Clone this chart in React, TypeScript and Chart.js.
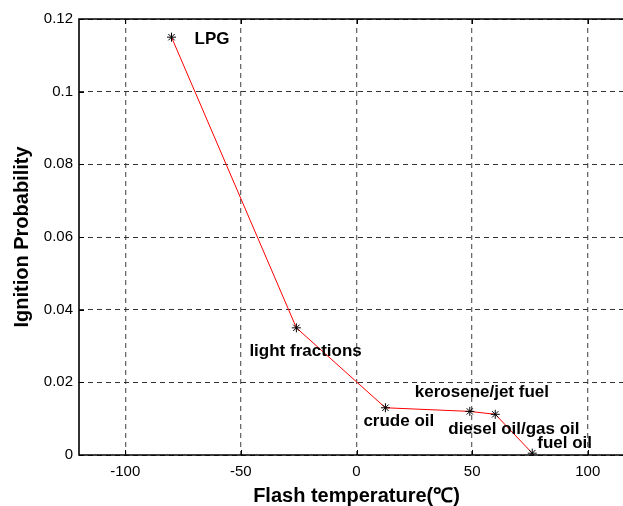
import React, { useEffect, useRef } from "react";
import { Chart, registerables } from "chart.js";

Chart.register(...registerables);

const categories = ["LPG", "light fractions", "crude oil", "kerosene/jet fuel", "diesel oil/gas oil", "fuel oil"];
const flashTemps = [-80, -26, 12.5, 49, 60, 76];
const ignitionProb = [0.115, 0.035, 0.013, 0.012, 0.0112, 0.0005];
const xTickValues = [-100, -50, 0, 50, 100];
const xTickLabels = ["-100", "-50", "0", "50", "100"];
const yTickValues = [0, 0.02, 0.04, 0.06, 0.08, 0.1, 0.12];
const yTickLabels = ["0", "0.02", "0.04", "0.06", "0.08", "0.1", "0.12"];

// pixel offsets of the annotation text from each point (left edge, vertical middle)
const labelOffsets: [number, number][] = [
  [23, 2],
  [-47, 23],
  [-22, 14],
  [-55, -19],
  [-47, 15],
  [5, -10],
];

const FONT = "'Liberation Sans', Arial, Helvetica, sans-serif";

const boxPlugin = {
  id: "boxAndTicks",
  beforeDatasetsDraw(chart: any) {
    const { ctx, chartArea, scales } = chart;
    const { left, right, top, bottom } = chartArea;
    ctx.save();
    ctx.strokeStyle = "#000";
    ctx.lineWidth = 1;
    const tl = 5;
    ctx.beginPath();
    scales.x.ticks.forEach((t: any) => {
      const px = Math.round(scales.x.getPixelForValue(t.value)) + 0.5;
      ctx.moveTo(px, bottom);
      ctx.lineTo(px, bottom - tl);
      ctx.moveTo(px, top);
      ctx.lineTo(px, top + tl);
    });
    scales.y.ticks.forEach((t: any) => {
      const py = Math.round(scales.y.getPixelForValue(t.value)) + 0.5;
      ctx.moveTo(left, py);
      ctx.lineTo(left + tl, py);
    });
    ctx.stroke();
    ctx.lineWidth = 1.6;
    ctx.beginPath();
    ctx.moveTo(right, top);
    ctx.lineTo(left, top);
    ctx.lineTo(left, bottom);
    ctx.lineTo(right, bottom);
    ctx.stroke();
    ctx.restore();
  },
};

const labelPlugin = {
  id: "pointLabels",
  afterDatasetsDraw(chart: any) {
    const { ctx } = chart;
    const meta = chart.getDatasetMeta(0);
    ctx.save();
    ctx.fillStyle = "#000";
    ctx.font = `bold 17px ${FONT}`;
    ctx.textAlign = "left";
    ctx.textBaseline = "middle";
    meta.data.forEach((pt: any, i: number) => {
      const [dx, dy] = labelOffsets[i];
      ctx.fillText(categories[i], pt.x + dx, pt.y + dy);
    });
    ctx.restore();
  },
};

export default function App() {
  const ref = useRef<HTMLCanvasElement | null>(null);

  useEffect(() => {
    document.body.style.overflow = "hidden";
    if (!ref.current) return;
    const chart = new Chart(ref.current, {
      type: "line",
      data: {
        datasets: [
          {
            label: "Ignition probability",
            data: flashTemps.map((x, i) => ({ x, y: ignitionProb[i] })),
            borderColor: "#ff0000",
            borderWidth: 1,
            pointStyle: "star",
            pointRadius: 4.5,
            pointBorderColor: "#000",
            pointBorderWidth: 1,
            pointBackgroundColor: "#000",
            tension: 0,
          },
        ],
      },
      options: {
        responsive: false,
        animation: false,
        layout: { padding: { left: 0, top: 19, right: 26, bottom: 0 } },
        plugins: {
          legend: { display: false },
          tooltip: { enabled: false },
        },
        scales: {
          x: {
            type: "linear",
            min: -120,
            max: 120,
            afterFit: (s: any) => {
              s.height = 51;
            },
            afterBuildTicks: (s: any) => {
              s.ticks = xTickValues.map((v) => ({ value: v }));
            },
            border: { display: false, dash: [5, 4] },
            grid: {
              color: "#6a6a6a",
              lineWidth: 1.3,
              drawTicks: false,
            },
            ticks: {
              padding: 8,
              color: "#000",
              font: { family: FONT, size: 15 },
              maxRotation: 0,
              callback: (_v: any, i: number) => xTickLabels[i],
            },
            title: {
              display: true,
              text: "Flash temperature(\u2103)",
              color: "#000",
              font: { family: FONT, size: 20, weight: "bold", lineHeight: 1 },
              padding: { top: 0, bottom: 0 },
            },
          },
          y: {
            type: "linear",
            min: 0,
            max: 0.12,
            afterFit: (s: any) => {
              s.width = 79;
            },
            afterBuildTicks: (s: any) => {
              s.ticks = yTickValues.map((v) => ({ value: v }));
            },
            border: { display: false, dash: [5, 4] },
            grid: {
              color: "#333",
              lineWidth: 1,
              drawTicks: false,
            },
            ticks: {
              padding: 6,
              color: "#000",
              font: { family: FONT, size: 15 },
              callback: (_v: any, i: number) => yTickLabels[i],
            },
            title: {
              display: true,
              text: "Ignition Probability",
              color: "#000",
              font: { family: FONT, size: 20, weight: "bold", lineHeight: 1 },
              padding: { top: 12, bottom: 0 },
            },
          },
        },
      } as any,
      plugins: [boxPlugin, labelPlugin],
    });
    return () => chart.destroy();
  }, []);

  return (
    <div style={{ position: "fixed", left: 0, top: 0, width: 623, height: 506, overflow: "hidden", background: "#fff" }}>
      <canvas ref={ref} width={660} height={506} style={{ display: "block" }} />
    </div>
  );
}
